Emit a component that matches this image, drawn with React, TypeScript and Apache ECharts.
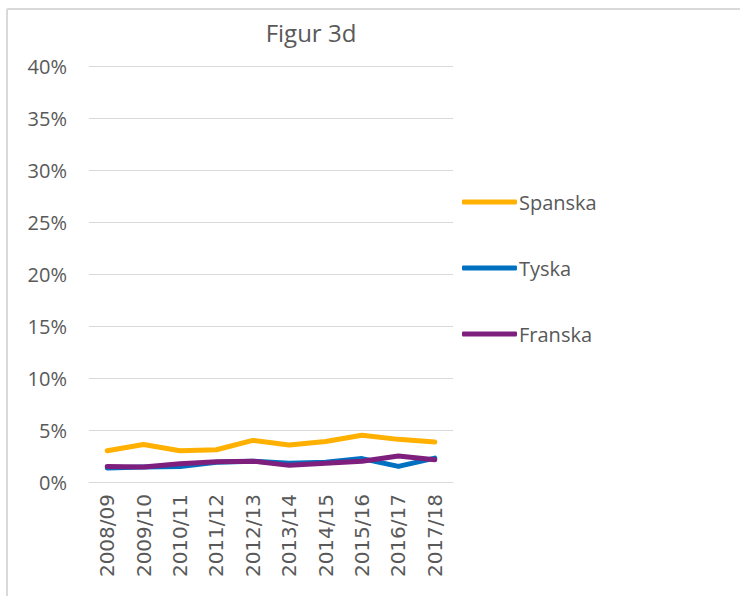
import React, { useEffect, useRef } from "react";
import * as echarts from "echarts";

const categories = ["2008/09", "2009/10", "2010/11", "2011/12", "2012/13", "2013/14", "2014/15", "2015/16", "2016/17", "2017/18"];
const spanska = [3.0, 3.6, 3.0, 3.1, 4.0, 3.55, 3.9, 4.5, 4.1, 3.85];
const tyska = [1.35, 1.45, 1.5, 1.9, 2.0, 1.8, 1.9, 2.25, 1.5, 2.3];
const franska = [1.5, 1.45, 1.75, 1.95, 2.0, 1.6, 1.8, 2.0, 2.5, 2.15];
const seriesNames = ["Spanska", "Tyska", "Franska"];
const colors = ["#FFB000", "#0070C0", "#7E1F7E"];
const title = "Figur 3d";

const FONT = "'Open Sans', sans-serif";
const TXT = "#595959";

export default function App() {
  const ref = useRef<HTMLDivElement>(null);
  useEffect(() => {
    const chart = echarts.init(ref.current!, null, { renderer: "svg" });
    const data = [spanska, tyska, franska];
    chart.setOption({
      animation: false,
      backgroundColor: "#ffffff",
      title: {
        text: title,
        left: 306,
        textAlign: "center",
        top: 15,
        textStyle: { fontFamily: FONT, fontSize: 24, fontWeight: "normal", color: TXT },
      },
      grid: { left: 89, right: 287, top: 66, bottom: 114 },
      legend: {
        orient: "vertical",
        left: 457,
        top: 187,
        itemGap: 46,
        itemWidth: 55,
        itemHeight: 5,
        icon: "roundRect",
        data: seriesNames,
        textStyle: { fontFamily: FONT, fontSize: 20, color: TXT, lineHeight: 20, padding: [0, 0, 0, -3] },
      },
      xAxis: {
        type: "category",
        data: categories,
        boundaryGap: true,
        axisLine: { show: true, lineStyle: { color: "#D9D9D9", width: 1 } },
        axisTick: { show: false },
        axisLabel: { rotate: 90, margin: 12, fontFamily: "'DejaVu Sans', sans-serif", fontSize: 20, color: TXT, interval: 0 },
      },
      yAxis: {
        type: "value",
        min: 0,
        max: 40,
        interval: 5,
        axisLine: { show: false },
        axisTick: { show: false },
        splitLine: { lineStyle: { color: "#D9D9D9", width: 1 } },
        axisLabel: { formatter: "{value}%", margin: 22, fontFamily: FONT, fontSize: 20, color: TXT },
      },
      series: seriesNames.map((n, i) => ({
        name: n,
        type: "line",
        data: data[i],
        symbol: "none",
        showSymbol: false,
        color: colors[i],
        lineStyle: { width: 5, color: colors[i], cap: "round", join: "round" },
      })),
      graphic: [
        { type: "line", shape: { x1: 7, y1: 9, x2: 740, y2: 9 }, style: { stroke: "#D9D9D9", lineWidth: 2 } },
        { type: "line", shape: { x1: 7, y1: 9, x2: 7, y2: 596 }, style: { stroke: "#D9D9D9", lineWidth: 2 } },
      ],
    });
    return () => chart.dispose();
  }, []);
  return <div ref={ref} style={{ position: "absolute", left: 0, top: 0, width: 740, height: 596 }} />;
}
